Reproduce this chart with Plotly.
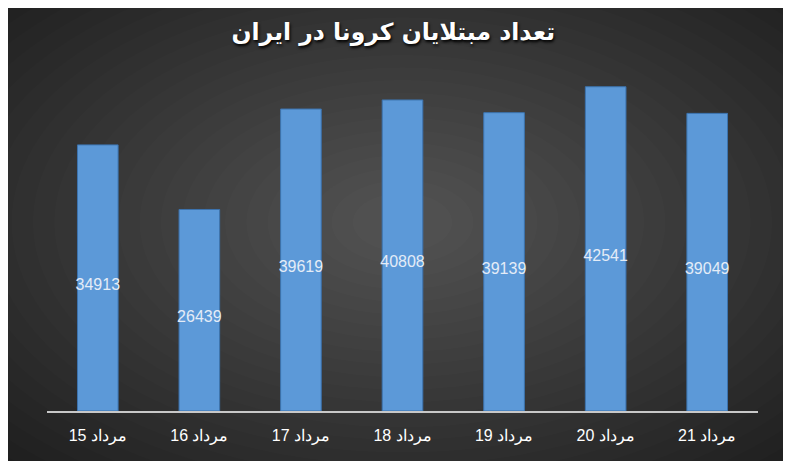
import plotly.graph_objects as go

categories = ["مرداد 15", "مرداد 16", "مرداد 17", "مرداد 18", "مرداد 19", "مرداد 20", "مرداد 21"]
values = [34913, 26439, 39619, 40808, 39139, 42541, 39049]
title_text = "تعداد مبتلایان کرونا در ایران"

fig = go.Figure()
fig.add_trace(go.Bar(
    x=categories, y=values,
    width=0.4,
    marker=dict(color="#5c99d8", line=dict(color="#3c73ae", width=1)),
    hoverinfo="skip",
))
# value labels centred in each bar
fig.add_trace(go.Scatter(
    x=categories, y=[v / 2 for v in values],
    mode="text",
    text=[str(v) for v in values],
    textposition="bottom center",
    textfont=dict(family="Liberation Sans Narrow, Liberation Sans, sans-serif", size=16, color="#e4ecf7"),
    hoverinfo="skip",
))

# radial-ish background gradient via nested translucent ellipses
shapes = []
n = 26
for i in range(n):
    f = 1 - i / n
    rx = 0.78 * f + 0.04
    ry = 0.95 * f + 0.05
    cx, cy = 0.5, 0.55
    shapes.append(dict(type="circle", xref="paper", yref="paper",
                       x0=cx - rx, x1=cx + rx, y0=cy - ry, y1=cy + ry,
                       fillcolor="rgba(255,255,255,0.0125)", line=dict(width=0),
                       layer="below"))

fig.update_layout(
    width=791, height=461,
    paper_bgcolor="#1c1c1c", plot_bgcolor="rgba(0,0,0,0)",
    margin=dict(l=39, r=41, t=60, b=58),
    shapes=shapes,
    showlegend=False,
    title=dict(text=title_text, x=0.487, xanchor="center", y=0.948, yanchor="middle",
               font=dict(family="DejaVu Sans", size=23.5, color="white", weight="bold",
                         shadow="1px 2px 3px #000")),
    xaxis=dict(showgrid=False, showline=True, linecolor="#c8c8c8", linewidth=1.5,
               ticks="", ticklabelstandoff=9,
               tickfont=dict(family="Liberation Sans, Arial", size=16, color="white"),
               fixedrange=True),
    yaxis=dict(range=[0, 45000], visible=False, showgrid=False, zeroline=False, fixedrange=True),
    bargap=0.6,
)

fig.write_html("out.html")
